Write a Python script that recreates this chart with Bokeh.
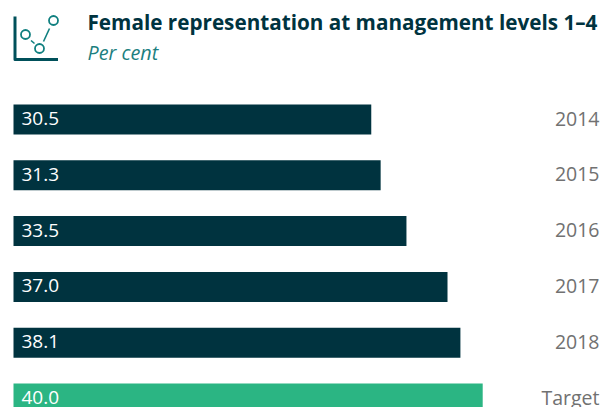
from bokeh.plotting import figure
from bokeh.models import Range1d, Label, ColumnDataSource
from bokeh.core.properties import value
from bokeh.embed import file_html
from bokeh.resources import INLINE

categories = ["2014", "2015", "2016", "2017", "2018", "Target"]
values = [30.5, 31.3, 33.5, 37.0, 38.1, 40.0]
labels = ["30.5", "31.3", "33.5", "37.0", "38.1", "40.0"]
colors = ["#00333f", "#00333f", "#00333f", "#00333f", "#00333f", "#2bb583"]
title = "Female representation at management levels 1–4"
subtitle = "Per cent"

W, H = 603, 407
PX_PER_UNIT = 11.73      # horizontal scale
PITCH = 55.8             # vertical distance between bars
X0 = 13                  # pixel of value 0
Y0 = 119                 # pixel of first bar centre

x_range = Range1d(-X0 / PX_PER_UNIT, (W - X0) / PX_PER_UNIT)
y_range = Range1d((H - Y0) / PITCH, -Y0 / PITCH)

p = figure(width=W, height=H, x_range=x_range, y_range=y_range,
           output_backend="svg", toolbar_location=None,
           min_border=0, outline_line_color=None, background_fill_color=None,
           border_fill_color=None)
p.axis.visible = False
p.grid.visible = False

FONT = "Open Sans"
idx = list(range(len(categories)))
src = ColumnDataSource(dict(y=idx, v=values, c=colors, lab=labels, cat=categories,
                            x0=[8 / PX_PER_UNIT] * len(idx),
                            xr=[(599 - 13) / PX_PER_UNIT] * len(idx),
                            yt=[i - 1 / PITCH for i in idx]))

p.hbar(y="y", left=0, right="v", height=30 / PITCH, color="c", source=src, line_color=None)
p.text(x="x0", y="yt", text="lab", source=src, text_color="#ffffff",
       text_font=value(FONT), text_font_size="19px",
       text_align="left", text_baseline="middle")
p.text(x="xr", y="yt", text="cat", source=src, text_color="#717171",
       text_font=value(FONT), text_font_size="19.5px",
       text_align="right", text_baseline="middle")

# header
p.add_layout(Label(x=87, y=H - 35, x_units="screen", y_units="screen",
                   text=title, text_font=FONT, text_font_style="bold",
                   text_font_size="20.7px", text_color="#00333f"))
p.add_layout(Label(x=87, y=H - 65, x_units="screen", y_units="screen",
                   text=subtitle, text_font=FONT, text_font_style="italic",
                   text_font_size="19.8px", text_color="#1c7f7f"))

# icon, given in page pixels
def dx(px):
    return (px - 13) / PX_PER_UNIT
def dy(py):
    return (py - 119) / PITCH

p.line([dx(14.5), dx(14.5), dx(57.5)], [dy(16), dy(59), dy(59)],
       line_color="#00505a", line_width=3, line_join="round")
p.multi_line([[dx(30.5), dx(34)], [dx(43), dx(49)]],
             [[dy(40), dy(43)], [dy(41), dy(28)]],
             line_color="#0f7f7f", line_width=1.6)
p.scatter([dx(25), dx(39), dx(53)], [dy(34), dy(48), dy(20)], size=9,
          fill_color=None, line_color="#0f7f7f", line_width=1.8)

open("out.html", "w").write(file_html(p, INLINE))
